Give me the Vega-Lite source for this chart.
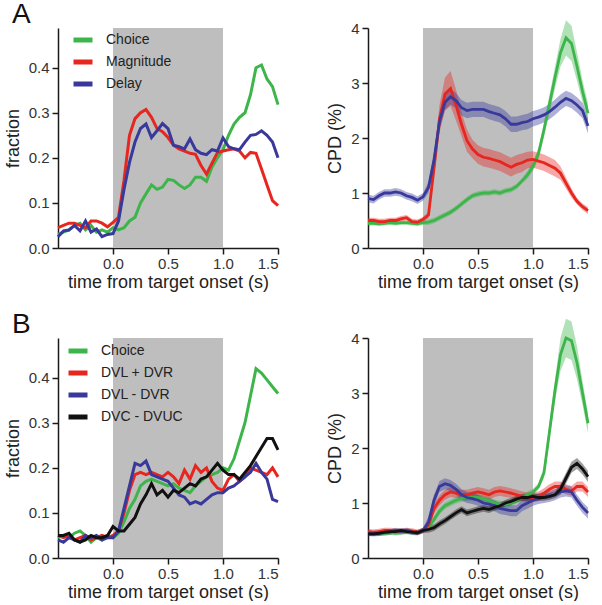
{
"$schema": "https://vega.github.io/schema/vega-lite/v6.json",
"background": "white",
"padding": {"left": 4, "top": 1, "right": 0, "bottom": 0},
"bounds": "flush",
"columns": 2,
"spacing": {"row": 90, "column": 90},
"resolve": {"scale": {"color": "independent", "x": "independent", "y": "independent"}, "legend": {"color": "independent"}},
"config": {
  "font": "Liberation Sans",
  "view": {"stroke": null},
  "axis": {"grid": false, "domainColor": "#1a1a1a", "domainWidth": 1.5, "tickColor": "#1a1a1a", "tickWidth": 1.5, "tickSize": 6, "labelFontSize": 15, "labelColor": "#333", "labelFont": "Liberation Sans", "labelPadding": 3, "titleFont": "Liberation Sans", "titleFontSize": 18, "titleFontWeight": "normal", "titleColor": "#222"},
  "axisX": {"titlePadding": 2, "labelPadding": 2},
  "axisY": {"titlePadding": 6},
  "legend": {"padding": 0, "symbolType": "stroke", "symbolStrokeWidth": 5, "symbolSize": 361, "labelFontSize": 14, "labelColor": "#222", "labelFont": "Liberation Sans", "rowPadding": -2, "labelOffset": 11},
  "title": {"fontSize": 28, "fontWeight": "normal", "font": "Liberation Sans", "anchor": "start", "frame": "group", "color": "#111", "dx": -46, "offset": -1}
},
"datasets": {
"af": [
{"t":-0.5,"s":"Choice","v":0.03},{"t":-0.45,"s":"Choice","v":0.035},{"t":-0.4,"s":"Choice","v":0.04},{"t":-0.35,"s":"Choice","v":0.05},{"t":-0.3,"s":"Choice","v":0.055},{"t":-0.25,"s":"Choice","v":0.04},{"t":-0.2,"s":"Choice","v":0.05},{"t":-0.15,"s":"Choice","v":0.035},{"t":-0.1,"s":"Choice","v":0.04},{"t":-0.05,"s":"Choice","v":0.035},{"t":0,"s":"Choice","v":0.045},{"t":0.05,"s":"Choice","v":0.04},{"t":0.1,"s":"Choice","v":0.045},{"t":0.15,"s":"Choice","v":0.06},{"t":0.2,"s":"Choice","v":0.068},{"t":0.25,"s":"Choice","v":0.1},{"t":0.3,"s":"Choice","v":0.12},{"t":0.35,"s":"Choice","v":0.14},{"t":0.4,"s":"Choice","v":0.13},{"t":0.45,"s":"Choice","v":0.135},{"t":0.5,"s":"Choice","v":0.152},{"t":0.55,"s":"Choice","v":0.15},{"t":0.6,"s":"Choice","v":0.14},{"t":0.65,"s":"Choice","v":0.132},{"t":0.7,"s":"Choice","v":0.14},{"t":0.75,"s":"Choice","v":0.157},{"t":0.8,"s":"Choice","v":0.157},{"t":0.85,"s":"Choice","v":0.148},{"t":0.9,"s":"Choice","v":0.18},{"t":0.95,"s":"Choice","v":0.2},{"t":1,"s":"Choice","v":0.218},{"t":1.05,"s":"Choice","v":0.25},{"t":1.1,"s":"Choice","v":0.275},{"t":1.15,"s":"Choice","v":0.29},{"t":1.2,"s":"Choice","v":0.3},{"t":1.25,"s":"Choice","v":0.34},{"t":1.3,"s":"Choice","v":0.4},{"t":1.35,"s":"Choice","v":0.406},{"t":1.4,"s":"Choice","v":0.375},{"t":1.45,"s":"Choice","v":0.358},{"t":1.5,"s":"Choice","v":0.318},
{"t":-0.5,"s":"Magnitude","v":0.045},{"t":-0.45,"s":"Magnitude","v":0.05},{"t":-0.4,"s":"Magnitude","v":0.055},{"t":-0.35,"s":"Magnitude","v":0.055},{"t":-0.3,"s":"Magnitude","v":0.05},{"t":-0.25,"s":"Magnitude","v":0.045},{"t":-0.2,"s":"Magnitude","v":0.06},{"t":-0.15,"s":"Magnitude","v":0.06},{"t":-0.1,"s":"Magnitude","v":0.055},{"t":-0.05,"s":"Magnitude","v":0.047},{"t":0,"s":"Magnitude","v":0.057},{"t":0.05,"s":"Magnitude","v":0.068},{"t":0.1,"s":"Magnitude","v":0.15},{"t":0.15,"s":"Magnitude","v":0.25},{"t":0.2,"s":"Magnitude","v":0.287},{"t":0.25,"s":"Magnitude","v":0.3},{"t":0.3,"s":"Magnitude","v":0.307},{"t":0.35,"s":"Magnitude","v":0.29},{"t":0.4,"s":"Magnitude","v":0.265},{"t":0.45,"s":"Magnitude","v":0.258},{"t":0.5,"s":"Magnitude","v":0.245},{"t":0.55,"s":"Magnitude","v":0.228},{"t":0.6,"s":"Magnitude","v":0.22},{"t":0.65,"s":"Magnitude","v":0.215},{"t":0.7,"s":"Magnitude","v":0.21},{"t":0.75,"s":"Magnitude","v":0.208},{"t":0.8,"s":"Magnitude","v":0.183},{"t":0.85,"s":"Magnitude","v":0.164},{"t":0.9,"s":"Magnitude","v":0.188},{"t":0.95,"s":"Magnitude","v":0.212},{"t":1,"s":"Magnitude","v":0.215},{"t":1.05,"s":"Magnitude","v":0.218},{"t":1.1,"s":"Magnitude","v":0.22},{"t":1.15,"s":"Magnitude","v":0.215},{"t":1.2,"s":"Magnitude","v":0.2},{"t":1.25,"s":"Magnitude","v":0.212},{"t":1.3,"s":"Magnitude","v":0.21},{"t":1.35,"s":"Magnitude","v":0.175},{"t":1.4,"s":"Magnitude","v":0.14},{"t":1.45,"s":"Magnitude","v":0.105},{"t":1.5,"s":"Magnitude","v":0.094},
{"t":-0.5,"s":"Delay","v":0.025},{"t":-0.45,"s":"Delay","v":0.038},{"t":-0.4,"s":"Delay","v":0.04},{"t":-0.35,"s":"Delay","v":0.05},{"t":-0.3,"s":"Delay","v":0.038},{"t":-0.25,"s":"Delay","v":0.06},{"t":-0.2,"s":"Delay","v":0.035},{"t":-0.15,"s":"Delay","v":0.042},{"t":-0.1,"s":"Delay","v":0.025},{"t":-0.05,"s":"Delay","v":0.03},{"t":0,"s":"Delay","v":0.032},{"t":0.05,"s":"Delay","v":0.06},{"t":0.1,"s":"Delay","v":0.13},{"t":0.15,"s":"Delay","v":0.19},{"t":0.2,"s":"Delay","v":0.235},{"t":0.25,"s":"Delay","v":0.265},{"t":0.3,"s":"Delay","v":0.275},{"t":0.35,"s":"Delay","v":0.245},{"t":0.4,"s":"Delay","v":0.26},{"t":0.45,"s":"Delay","v":0.276},{"t":0.5,"s":"Delay","v":0.265},{"t":0.55,"s":"Delay","v":0.228},{"t":0.6,"s":"Delay","v":0.225},{"t":0.65,"s":"Delay","v":0.22},{"t":0.7,"s":"Delay","v":0.242},{"t":0.75,"s":"Delay","v":0.218},{"t":0.8,"s":"Delay","v":0.21},{"t":0.85,"s":"Delay","v":0.207},{"t":0.9,"s":"Delay","v":0.218},{"t":0.95,"s":"Delay","v":0.215},{"t":1,"s":"Delay","v":0.244},{"t":1.05,"s":"Delay","v":0.225},{"t":1.1,"s":"Delay","v":0.22},{"t":1.15,"s":"Delay","v":0.218},{"t":1.2,"s":"Delay","v":0.235},{"t":1.25,"s":"Delay","v":0.25},{"t":1.3,"s":"Delay","v":0.252},{"t":1.35,"s":"Delay","v":0.26},{"t":1.4,"s":"Delay","v":0.25},{"t":1.45,"s":"Delay","v":0.235},{"t":1.5,"s":"Delay","v":0.2}
],
"ac": [
{"t":-0.5,"s":"Choice","v":0.45,"e":0.04},{"t":-0.45,"s":"Choice","v":0.45,"e":0.04},{"t":-0.4,"s":"Choice","v":0.44,"e":0.04},{"t":-0.35,"s":"Choice","v":0.45,"e":0.04},{"t":-0.3,"s":"Choice","v":0.46,"e":0.04},{"t":-0.25,"s":"Choice","v":0.45,"e":0.04},{"t":-0.2,"s":"Choice","v":0.46,"e":0.04},{"t":-0.15,"s":"Choice","v":0.46,"e":0.04},{"t":-0.1,"s":"Choice","v":0.45,"e":0.04},{"t":-0.05,"s":"Choice","v":0.44,"e":0.04},{"t":0,"s":"Choice","v":0.46,"e":0.04},{"t":0.05,"s":"Choice","v":0.47,"e":0.05},{"t":0.1,"s":"Choice","v":0.5,"e":0.05},{"t":0.15,"s":"Choice","v":0.55,"e":0.05},{"t":0.2,"s":"Choice","v":0.6,"e":0.05},{"t":0.25,"s":"Choice","v":0.65,"e":0.05},{"t":0.3,"s":"Choice","v":0.72,"e":0.05},{"t":0.35,"s":"Choice","v":0.8,"e":0.05},{"t":0.4,"s":"Choice","v":0.88,"e":0.05},{"t":0.45,"s":"Choice","v":0.95,"e":0.05},{"t":0.5,"s":"Choice","v":0.98,"e":0.05},{"t":0.55,"s":"Choice","v":1.0,"e":0.05},{"t":0.6,"s":"Choice","v":1.0,"e":0.05},{"t":0.65,"s":"Choice","v":1.02,"e":0.05},{"t":0.7,"s":"Choice","v":1.0,"e":0.05},{"t":0.75,"s":"Choice","v":1.04,"e":0.05},{"t":0.8,"s":"Choice","v":1.06,"e":0.05},{"t":0.85,"s":"Choice","v":1.12,"e":0.05},{"t":0.9,"s":"Choice","v":1.22,"e":0.05},{"t":0.95,"s":"Choice","v":1.33,"e":0.07},{"t":1,"s":"Choice","v":1.48,"e":0.08},{"t":1.05,"s":"Choice","v":1.72,"e":0.1},{"t":1.1,"s":"Choice","v":2.15,"e":0.13},{"t":1.15,"s":"Choice","v":2.62,"e":0.16},{"t":1.2,"s":"Choice","v":3.1,"e":0.2},{"t":1.25,"s":"Choice","v":3.55,"e":0.25},{"t":1.3,"s":"Choice","v":3.82,"e":0.32},{"t":1.35,"s":"Choice","v":3.72,"e":0.32},{"t":1.4,"s":"Choice","v":3.3,"e":0.26},{"t":1.45,"s":"Choice","v":2.85,"e":0.2},{"t":1.5,"s":"Choice","v":2.45,"e":0.18},
{"t":-0.5,"s":"Magnitude","v":0.5,"e":0.05},{"t":-0.45,"s":"Magnitude","v":0.5,"e":0.05},{"t":-0.4,"s":"Magnitude","v":0.48,"e":0.05},{"t":-0.35,"s":"Magnitude","v":0.48,"e":0.05},{"t":-0.3,"s":"Magnitude","v":0.5,"e":0.05},{"t":-0.25,"s":"Magnitude","v":0.5,"e":0.05},{"t":-0.2,"s":"Magnitude","v":0.53,"e":0.05},{"t":-0.15,"s":"Magnitude","v":0.55,"e":0.05},{"t":-0.1,"s":"Magnitude","v":0.48,"e":0.05},{"t":-0.05,"s":"Magnitude","v":0.47,"e":0.05},{"t":0,"s":"Magnitude","v":0.52,"e":0.05},{"t":0.05,"s":"Magnitude","v":0.6,"e":0.06},{"t":0.1,"s":"Magnitude","v":1.45,"e":0.15},{"t":0.15,"s":"Magnitude","v":2.35,"e":0.25},{"t":0.2,"s":"Magnitude","v":2.8,"e":0.3},{"t":0.25,"s":"Magnitude","v":2.9,"e":0.32},{"t":0.3,"s":"Magnitude","v":2.6,"e":0.28},{"t":0.35,"s":"Magnitude","v":2.25,"e":0.22},{"t":0.4,"s":"Magnitude","v":1.95,"e":0.2},{"t":0.45,"s":"Magnitude","v":1.8,"e":0.17},{"t":0.5,"s":"Magnitude","v":1.7,"e":0.17},{"t":0.55,"s":"Magnitude","v":1.65,"e":0.17},{"t":0.6,"s":"Magnitude","v":1.63,"e":0.17},{"t":0.65,"s":"Magnitude","v":1.6,"e":0.17},{"t":0.7,"s":"Magnitude","v":1.57,"e":0.17},{"t":0.75,"s":"Magnitude","v":1.52,"e":0.17},{"t":0.8,"s":"Magnitude","v":1.47,"e":0.17},{"t":0.85,"s":"Magnitude","v":1.52,"e":0.17},{"t":0.9,"s":"Magnitude","v":1.55,"e":0.17},{"t":0.95,"s":"Magnitude","v":1.6,"e":0.15},{"t":1,"s":"Magnitude","v":1.61,"e":0.15},{"t":1.05,"s":"Magnitude","v":1.58,"e":0.15},{"t":1.1,"s":"Magnitude","v":1.55,"e":0.15},{"t":1.15,"s":"Magnitude","v":1.5,"e":0.15},{"t":1.2,"s":"Magnitude","v":1.45,"e":0.15},{"t":1.25,"s":"Magnitude","v":1.36,"e":0.12},{"t":1.3,"s":"Magnitude","v":1.18,"e":0.1},{"t":1.35,"s":"Magnitude","v":1.0,"e":0.08},{"t":1.4,"s":"Magnitude","v":0.85,"e":0.06},{"t":1.45,"s":"Magnitude","v":0.75,"e":0.06},{"t":1.5,"s":"Magnitude","v":0.68,"e":0.06},
{"t":-0.5,"s":"Delay","v":0.9,"e":0.07},{"t":-0.45,"s":"Delay","v":0.88,"e":0.07},{"t":-0.4,"s":"Delay","v":0.95,"e":0.07},{"t":-0.35,"s":"Delay","v":1.0,"e":0.07},{"t":-0.3,"s":"Delay","v":1.0,"e":0.07},{"t":-0.25,"s":"Delay","v":1.02,"e":0.07},{"t":-0.2,"s":"Delay","v":1.0,"e":0.07},{"t":-0.15,"s":"Delay","v":0.95,"e":0.07},{"t":-0.1,"s":"Delay","v":0.92,"e":0.07},{"t":-0.05,"s":"Delay","v":0.87,"e":0.07},{"t":0,"s":"Delay","v":0.93,"e":0.07},{"t":0.05,"s":"Delay","v":1.1,"e":0.1},{"t":0.1,"s":"Delay","v":1.6,"e":0.14},{"t":0.15,"s":"Delay","v":2.3,"e":0.14},{"t":0.2,"s":"Delay","v":2.65,"e":0.14},{"t":0.25,"s":"Delay","v":2.75,"e":0.14},{"t":0.3,"s":"Delay","v":2.68,"e":0.14},{"t":0.35,"s":"Delay","v":2.55,"e":0.14},{"t":0.4,"s":"Delay","v":2.5,"e":0.14},{"t":0.45,"s":"Delay","v":2.52,"e":0.14},{"t":0.5,"s":"Delay","v":2.52,"e":0.14},{"t":0.55,"s":"Delay","v":2.52,"e":0.14},{"t":0.6,"s":"Delay","v":2.48,"e":0.14},{"t":0.65,"s":"Delay","v":2.45,"e":0.14},{"t":0.7,"s":"Delay","v":2.42,"e":0.14},{"t":0.75,"s":"Delay","v":2.35,"e":0.14},{"t":0.8,"s":"Delay","v":2.25,"e":0.14},{"t":0.85,"s":"Delay","v":2.25,"e":0.14},{"t":0.9,"s":"Delay","v":2.28,"e":0.14},{"t":0.95,"s":"Delay","v":2.3,"e":0.14},{"t":1,"s":"Delay","v":2.35,"e":0.14},{"t":1.05,"s":"Delay","v":2.38,"e":0.14},{"t":1.1,"s":"Delay","v":2.42,"e":0.14},{"t":1.15,"s":"Delay","v":2.48,"e":0.14},{"t":1.2,"s":"Delay","v":2.56,"e":0.14},{"t":1.25,"s":"Delay","v":2.65,"e":0.14},{"t":1.3,"s":"Delay","v":2.72,"e":0.14},{"t":1.35,"s":"Delay","v":2.68,"e":0.14},{"t":1.4,"s":"Delay","v":2.6,"e":0.14},{"t":1.45,"s":"Delay","v":2.5,"e":0.14},{"t":1.5,"s":"Delay","v":2.22,"e":0.14}
],
"bf": [
{"t":-0.5,"s":"Choice","v":0.045},{"t":-0.45,"s":"Choice","v":0.05},{"t":-0.4,"s":"Choice","v":0.045},{"t":-0.35,"s":"Choice","v":0.055},{"t":-0.3,"s":"Choice","v":0.06},{"t":-0.25,"s":"Choice","v":0.05},{"t":-0.2,"s":"Choice","v":0.035},{"t":-0.15,"s":"Choice","v":0.045},{"t":-0.1,"s":"Choice","v":0.04},{"t":-0.05,"s":"Choice","v":0.05},{"t":0,"s":"Choice","v":0.045},{"t":0.05,"s":"Choice","v":0.055},{"t":0.1,"s":"Choice","v":0.08},{"t":0.15,"s":"Choice","v":0.11},{"t":0.2,"s":"Choice","v":0.13},{"t":0.25,"s":"Choice","v":0.16},{"t":0.3,"s":"Choice","v":0.17},{"t":0.35,"s":"Choice","v":0.175},{"t":0.4,"s":"Choice","v":0.17},{"t":0.45,"s":"Choice","v":0.165},{"t":0.5,"s":"Choice","v":0.16},{"t":0.55,"s":"Choice","v":0.165},{"t":0.6,"s":"Choice","v":0.155},{"t":0.65,"s":"Choice","v":0.15},{"t":0.7,"s":"Choice","v":0.145},{"t":0.75,"s":"Choice","v":0.16},{"t":0.8,"s":"Choice","v":0.17},{"t":0.85,"s":"Choice","v":0.18},{"t":0.9,"s":"Choice","v":0.185},{"t":0.95,"s":"Choice","v":0.19},{"t":1,"s":"Choice","v":0.2},{"t":1.05,"s":"Choice","v":0.195},{"t":1.1,"s":"Choice","v":0.22},{"t":1.15,"s":"Choice","v":0.26},{"t":1.2,"s":"Choice","v":0.3},{"t":1.25,"s":"Choice","v":0.36},{"t":1.3,"s":"Choice","v":0.42},{"t":1.35,"s":"Choice","v":0.41},{"t":1.4,"s":"Choice","v":0.395},{"t":1.45,"s":"Choice","v":0.38},{"t":1.5,"s":"Choice","v":0.365},
{"t":-0.5,"s":"DVL + DVR","v":0.05},{"t":-0.45,"s":"DVL + DVR","v":0.045},{"t":-0.4,"s":"DVL + DVR","v":0.05},{"t":-0.35,"s":"DVL + DVR","v":0.04},{"t":-0.3,"s":"DVL + DVR","v":0.045},{"t":-0.25,"s":"DVL + DVR","v":0.05},{"t":-0.2,"s":"DVL + DVR","v":0.04},{"t":-0.15,"s":"DVL + DVR","v":0.045},{"t":-0.1,"s":"DVL + DVR","v":0.05},{"t":-0.05,"s":"DVL + DVR","v":0.045},{"t":0,"s":"DVL + DVR","v":0.05},{"t":0.05,"s":"DVL + DVR","v":0.06},{"t":0.1,"s":"DVL + DVR","v":0.1},{"t":0.15,"s":"DVL + DVR","v":0.15},{"t":0.2,"s":"DVL + DVR","v":0.185},{"t":0.25,"s":"DVL + DVR","v":0.19},{"t":0.3,"s":"DVL + DVR","v":0.185},{"t":0.35,"s":"DVL + DVR","v":0.19},{"t":0.4,"s":"DVL + DVR","v":0.185},{"t":0.45,"s":"DVL + DVR","v":0.18},{"t":0.5,"s":"DVL + DVR","v":0.19},{"t":0.55,"s":"DVL + DVR","v":0.18},{"t":0.6,"s":"DVL + DVR","v":0.165},{"t":0.65,"s":"DVL + DVR","v":0.195},{"t":0.7,"s":"DVL + DVR","v":0.175},{"t":0.75,"s":"DVL + DVR","v":0.205},{"t":0.8,"s":"DVL + DVR","v":0.19},{"t":0.85,"s":"DVL + DVR","v":0.2},{"t":0.9,"s":"DVL + DVR","v":0.17},{"t":0.95,"s":"DVL + DVR","v":0.155},{"t":1,"s":"DVL + DVR","v":0.15},{"t":1.05,"s":"DVL + DVR","v":0.175},{"t":1.1,"s":"DVL + DVR","v":0.185},{"t":1.15,"s":"DVL + DVR","v":0.17},{"t":1.2,"s":"DVL + DVR","v":0.18},{"t":1.25,"s":"DVL + DVR","v":0.2},{"t":1.3,"s":"DVL + DVR","v":0.195},{"t":1.35,"s":"DVL + DVR","v":0.19},{"t":1.4,"s":"DVL + DVR","v":0.185},{"t":1.45,"s":"DVL + DVR","v":0.2},{"t":1.5,"s":"DVL + DVR","v":0.18},
{"t":-0.5,"s":"DVL - DVR","v":0.04},{"t":-0.45,"s":"DVL - DVR","v":0.035},{"t":-0.4,"s":"DVL - DVR","v":0.045},{"t":-0.35,"s":"DVL - DVR","v":0.04},{"t":-0.3,"s":"DVL - DVR","v":0.035},{"t":-0.25,"s":"DVL - DVR","v":0.05},{"t":-0.2,"s":"DVL - DVR","v":0.045},{"t":-0.15,"s":"DVL - DVR","v":0.05},{"t":-0.1,"s":"DVL - DVR","v":0.04},{"t":-0.05,"s":"DVL - DVR","v":0.045},{"t":0,"s":"DVL - DVR","v":0.045},{"t":0.05,"s":"DVL - DVR","v":0.06},{"t":0.1,"s":"DVL - DVR","v":0.11},{"t":0.15,"s":"DVL - DVR","v":0.16},{"t":0.2,"s":"DVL - DVR","v":0.21},{"t":0.25,"s":"DVL - DVR","v":0.205},{"t":0.3,"s":"DVL - DVR","v":0.215},{"t":0.35,"s":"DVL - DVR","v":0.185},{"t":0.4,"s":"DVL - DVR","v":0.18},{"t":0.45,"s":"DVL - DVR","v":0.175},{"t":0.5,"s":"DVL - DVR","v":0.17},{"t":0.55,"s":"DVL - DVR","v":0.155},{"t":0.6,"s":"DVL - DVR","v":0.14},{"t":0.65,"s":"DVL - DVR","v":0.135},{"t":0.7,"s":"DVL - DVR","v":0.12},{"t":0.75,"s":"DVL - DVR","v":0.125},{"t":0.8,"s":"DVL - DVR","v":0.12},{"t":0.85,"s":"DVL - DVR","v":0.13},{"t":0.9,"s":"DVL - DVR","v":0.14},{"t":0.95,"s":"DVL - DVR","v":0.145},{"t":1,"s":"DVL - DVR","v":0.145},{"t":1.05,"s":"DVL - DVR","v":0.155},{"t":1.1,"s":"DVL - DVR","v":0.16},{"t":1.15,"s":"DVL - DVR","v":0.17},{"t":1.2,"s":"DVL - DVR","v":0.18},{"t":1.25,"s":"DVL - DVR","v":0.19},{"t":1.3,"s":"DVL - DVR","v":0.21},{"t":1.35,"s":"DVL - DVR","v":0.19},{"t":1.4,"s":"DVL - DVR","v":0.175},{"t":1.45,"s":"DVL - DVR","v":0.13},{"t":1.5,"s":"DVL - DVR","v":0.125},
{"t":-0.5,"s":"DVC - DVUC","v":0.05},{"t":-0.45,"s":"DVC - DVUC","v":0.05},{"t":-0.4,"s":"DVC - DVUC","v":0.055},{"t":-0.35,"s":"DVC - DVUC","v":0.04},{"t":-0.3,"s":"DVC - DVUC","v":0.035},{"t":-0.25,"s":"DVC - DVUC","v":0.04},{"t":-0.2,"s":"DVC - DVUC","v":0.05},{"t":-0.15,"s":"DVC - DVUC","v":0.045},{"t":-0.1,"s":"DVC - DVUC","v":0.045},{"t":-0.05,"s":"DVC - DVUC","v":0.05},{"t":0,"s":"DVC - DVUC","v":0.07},{"t":0.05,"s":"DVC - DVUC","v":0.06},{"t":0.1,"s":"DVC - DVUC","v":0.06},{"t":0.15,"s":"DVC - DVUC","v":0.075},{"t":0.2,"s":"DVC - DVUC","v":0.09},{"t":0.25,"s":"DVC - DVUC","v":0.12},{"t":0.3,"s":"DVC - DVUC","v":0.14},{"t":0.35,"s":"DVC - DVUC","v":0.165},{"t":0.4,"s":"DVC - DVUC","v":0.14},{"t":0.45,"s":"DVC - DVUC","v":0.15},{"t":0.5,"s":"DVC - DVUC","v":0.135},{"t":0.55,"s":"DVC - DVUC","v":0.15},{"t":0.6,"s":"DVC - DVUC","v":0.145},{"t":0.65,"s":"DVC - DVUC","v":0.155},{"t":0.7,"s":"DVC - DVUC","v":0.165},{"t":0.75,"s":"DVC - DVUC","v":0.16},{"t":0.8,"s":"DVC - DVUC","v":0.175},{"t":0.85,"s":"DVC - DVUC","v":0.18},{"t":0.9,"s":"DVC - DVUC","v":0.195},{"t":0.95,"s":"DVC - DVUC","v":0.21},{"t":1,"s":"DVC - DVUC","v":0.195},{"t":1.05,"s":"DVC - DVUC","v":0.185},{"t":1.1,"s":"DVC - DVUC","v":0.185},{"t":1.15,"s":"DVC - DVUC","v":0.175},{"t":1.2,"s":"DVC - DVUC","v":0.19},{"t":1.25,"s":"DVC - DVUC","v":0.205},{"t":1.3,"s":"DVC - DVUC","v":0.225},{"t":1.35,"s":"DVC - DVUC","v":0.245},{"t":1.4,"s":"DVC - DVUC","v":0.265},{"t":1.45,"s":"DVC - DVUC","v":0.265},{"t":1.5,"s":"DVC - DVUC","v":0.24}
],
"bc": [
{"t":-0.5,"s":"Choice","v":0.45,"e":0.04},{"t":-0.45,"s":"Choice","v":0.45,"e":0.04},{"t":-0.4,"s":"Choice","v":0.44,"e":0.04},{"t":-0.35,"s":"Choice","v":0.45,"e":0.04},{"t":-0.3,"s":"Choice","v":0.46,"e":0.04},{"t":-0.25,"s":"Choice","v":0.45,"e":0.04},{"t":-0.2,"s":"Choice","v":0.46,"e":0.04},{"t":-0.15,"s":"Choice","v":0.47,"e":0.04},{"t":-0.1,"s":"Choice","v":0.46,"e":0.04},{"t":-0.05,"s":"Choice","v":0.47,"e":0.04},{"t":0,"s":"Choice","v":0.5,"e":0.04},{"t":0.05,"s":"Choice","v":0.55,"e":0.06},{"t":0.1,"s":"Choice","v":0.7,"e":0.06},{"t":0.15,"s":"Choice","v":0.85,"e":0.06},{"t":0.2,"s":"Choice","v":0.95,"e":0.06},{"t":0.25,"s":"Choice","v":1.0,"e":0.06},{"t":0.3,"s":"Choice","v":1.05,"e":0.06},{"t":0.35,"s":"Choice","v":1.08,"e":0.06},{"t":0.4,"s":"Choice","v":1.1,"e":0.06},{"t":0.45,"s":"Choice","v":1.1,"e":0.06},{"t":0.5,"s":"Choice","v":1.1,"e":0.06},{"t":0.55,"s":"Choice","v":1.08,"e":0.06},{"t":0.6,"s":"Choice","v":1.05,"e":0.06},{"t":0.65,"s":"Choice","v":1.0,"e":0.06},{"t":0.7,"s":"Choice","v":0.98,"e":0.06},{"t":0.75,"s":"Choice","v":0.97,"e":0.06},{"t":0.8,"s":"Choice","v":1.0,"e":0.06},{"t":0.85,"s":"Choice","v":1.05,"e":0.06},{"t":0.9,"s":"Choice","v":1.1,"e":0.06},{"t":0.95,"s":"Choice","v":1.15,"e":0.06},{"t":1,"s":"Choice","v":1.2,"e":0.06},{"t":1.05,"s":"Choice","v":1.3,"e":0.06},{"t":1.1,"s":"Choice","v":1.55,"e":0.1},{"t":1.15,"s":"Choice","v":2.3,"e":0.15},{"t":1.2,"s":"Choice","v":3.05,"e":0.2},{"t":1.25,"s":"Choice","v":3.7,"e":0.3},{"t":1.3,"s":"Choice","v":4.0,"e":0.35},{"t":1.35,"s":"Choice","v":3.95,"e":0.35},{"t":1.4,"s":"Choice","v":3.55,"e":0.3},{"t":1.45,"s":"Choice","v":3.0,"e":0.22},{"t":1.5,"s":"Choice","v":2.45,"e":0.18},
{"t":-0.5,"s":"DVL + DVR","v":0.48,"e":0.05},{"t":-0.45,"s":"DVL + DVR","v":0.47,"e":0.05},{"t":-0.4,"s":"DVL + DVR","v":0.48,"e":0.05},{"t":-0.35,"s":"DVL + DVR","v":0.5,"e":0.05},{"t":-0.3,"s":"DVL + DVR","v":0.5,"e":0.05},{"t":-0.25,"s":"DVL + DVR","v":0.49,"e":0.05},{"t":-0.2,"s":"DVL + DVR","v":0.48,"e":0.05},{"t":-0.15,"s":"DVL + DVR","v":0.5,"e":0.05},{"t":-0.1,"s":"DVL + DVR","v":0.49,"e":0.05},{"t":-0.05,"s":"DVL + DVR","v":0.47,"e":0.05},{"t":0,"s":"DVL + DVR","v":0.5,"e":0.05},{"t":0.05,"s":"DVL + DVR","v":0.6,"e":0.09},{"t":0.1,"s":"DVL + DVR","v":0.9,"e":0.09},{"t":0.15,"s":"DVL + DVR","v":1.05,"e":0.09},{"t":0.2,"s":"DVL + DVR","v":1.15,"e":0.09},{"t":0.25,"s":"DVL + DVR","v":1.2,"e":0.09},{"t":0.3,"s":"DVL + DVR","v":1.18,"e":0.09},{"t":0.35,"s":"DVL + DVR","v":1.15,"e":0.09},{"t":0.4,"s":"DVL + DVR","v":1.15,"e":0.09},{"t":0.45,"s":"DVL + DVR","v":1.18,"e":0.09},{"t":0.5,"s":"DVL + DVR","v":1.2,"e":0.09},{"t":0.55,"s":"DVL + DVR","v":1.18,"e":0.09},{"t":0.6,"s":"DVL + DVR","v":1.15,"e":0.09},{"t":0.65,"s":"DVL + DVR","v":1.2,"e":0.09},{"t":0.7,"s":"DVL + DVR","v":1.22,"e":0.09},{"t":0.75,"s":"DVL + DVR","v":1.2,"e":0.09},{"t":0.8,"s":"DVL + DVR","v":1.18,"e":0.09},{"t":0.85,"s":"DVL + DVR","v":1.15,"e":0.09},{"t":0.9,"s":"DVL + DVR","v":1.12,"e":0.09},{"t":0.95,"s":"DVL + DVR","v":1.1,"e":0.09},{"t":1,"s":"DVL + DVR","v":1.1,"e":0.09},{"t":1.05,"s":"DVL + DVR","v":1.12,"e":0.09},{"t":1.1,"s":"DVL + DVR","v":1.18,"e":0.09},{"t":1.15,"s":"DVL + DVR","v":1.25,"e":0.09},{"t":1.2,"s":"DVL + DVR","v":1.3,"e":0.09},{"t":1.25,"s":"DVL + DVR","v":1.3,"e":0.09},{"t":1.3,"s":"DVL + DVR","v":1.25,"e":0.09},{"t":1.35,"s":"DVL + DVR","v":1.22,"e":0.09},{"t":1.4,"s":"DVL + DVR","v":1.3,"e":0.09},{"t":1.45,"s":"DVL + DVR","v":1.3,"e":0.09},{"t":1.5,"s":"DVL + DVR","v":1.2,"e":0.09},
{"t":-0.5,"s":"DVL - DVR","v":0.45,"e":0.05},{"t":-0.45,"s":"DVL - DVR","v":0.44,"e":0.05},{"t":-0.4,"s":"DVL - DVR","v":0.45,"e":0.05},{"t":-0.35,"s":"DVL - DVR","v":0.46,"e":0.05},{"t":-0.3,"s":"DVL - DVR","v":0.47,"e":0.05},{"t":-0.25,"s":"DVL - DVR","v":0.5,"e":0.05},{"t":-0.2,"s":"DVL - DVR","v":0.48,"e":0.05},{"t":-0.15,"s":"DVL - DVR","v":0.5,"e":0.05},{"t":-0.1,"s":"DVL - DVR","v":0.47,"e":0.05},{"t":-0.05,"s":"DVL - DVR","v":0.46,"e":0.05},{"t":0,"s":"DVL - DVR","v":0.5,"e":0.05},{"t":0.05,"s":"DVL - DVR","v":0.65,"e":0.1},{"t":0.1,"s":"DVL - DVR","v":1.05,"e":0.1},{"t":0.15,"s":"DVL - DVR","v":1.3,"e":0.1},{"t":0.2,"s":"DVL - DVR","v":1.35,"e":0.1},{"t":0.25,"s":"DVL - DVR","v":1.32,"e":0.1},{"t":0.3,"s":"DVL - DVR","v":1.25,"e":0.1},{"t":0.35,"s":"DVL - DVR","v":1.15,"e":0.1},{"t":0.4,"s":"DVL - DVR","v":1.1,"e":0.1},{"t":0.45,"s":"DVL - DVR","v":1.08,"e":0.1},{"t":0.5,"s":"DVL - DVR","v":1.05,"e":0.1},{"t":0.55,"s":"DVL - DVR","v":1.0,"e":0.1},{"t":0.6,"s":"DVL - DVR","v":0.98,"e":0.1},{"t":0.65,"s":"DVL - DVR","v":0.95,"e":0.1},{"t":0.7,"s":"DVL - DVR","v":0.9,"e":0.1},{"t":0.75,"s":"DVL - DVR","v":0.88,"e":0.1},{"t":0.8,"s":"DVL - DVR","v":0.86,"e":0.1},{"t":0.85,"s":"DVL - DVR","v":0.86,"e":0.1},{"t":0.9,"s":"DVL - DVR","v":0.95,"e":0.1},{"t":0.95,"s":"DVL - DVR","v":1.0,"e":0.1},{"t":1,"s":"DVL - DVR","v":1.05,"e":0.1},{"t":1.05,"s":"DVL - DVR","v":1.08,"e":0.1},{"t":1.1,"s":"DVL - DVR","v":1.1,"e":0.1},{"t":1.15,"s":"DVL - DVR","v":1.12,"e":0.1},{"t":1.2,"s":"DVL - DVR","v":1.15,"e":0.1},{"t":1.25,"s":"DVL - DVR","v":1.2,"e":0.1},{"t":1.3,"s":"DVL - DVR","v":1.22,"e":0.1},{"t":1.35,"s":"DVL - DVR","v":1.2,"e":0.1},{"t":1.4,"s":"DVL - DVR","v":1.05,"e":0.1},{"t":1.45,"s":"DVL - DVR","v":0.92,"e":0.1},{"t":1.5,"s":"DVL - DVR","v":0.82,"e":0.1},
{"t":-0.5,"s":"DVC - DVUC","v":0.44,"e":0.04},{"t":-0.45,"s":"DVC - DVUC","v":0.44,"e":0.04},{"t":-0.4,"s":"DVC - DVUC","v":0.45,"e":0.04},{"t":-0.35,"s":"DVC - DVUC","v":0.47,"e":0.04},{"t":-0.3,"s":"DVC - DVUC","v":0.48,"e":0.04},{"t":-0.25,"s":"DVC - DVUC","v":0.48,"e":0.04},{"t":-0.2,"s":"DVC - DVUC","v":0.5,"e":0.04},{"t":-0.15,"s":"DVC - DVUC","v":0.48,"e":0.04},{"t":-0.1,"s":"DVC - DVUC","v":0.47,"e":0.04},{"t":-0.05,"s":"DVC - DVUC","v":0.46,"e":0.04},{"t":0,"s":"DVC - DVUC","v":0.5,"e":0.04},{"t":0.05,"s":"DVC - DVUC","v":0.52,"e":0.06},{"t":0.1,"s":"DVC - DVUC","v":0.55,"e":0.06},{"t":0.15,"s":"DVC - DVUC","v":0.62,"e":0.06},{"t":0.2,"s":"DVC - DVUC","v":0.68,"e":0.06},{"t":0.25,"s":"DVC - DVUC","v":0.75,"e":0.06},{"t":0.3,"s":"DVC - DVUC","v":0.82,"e":0.06},{"t":0.35,"s":"DVC - DVUC","v":0.88,"e":0.06},{"t":0.4,"s":"DVC - DVUC","v":0.82,"e":0.06},{"t":0.45,"s":"DVC - DVUC","v":0.85,"e":0.06},{"t":0.5,"s":"DVC - DVUC","v":0.88,"e":0.06},{"t":0.55,"s":"DVC - DVUC","v":0.9,"e":0.06},{"t":0.6,"s":"DVC - DVUC","v":0.88,"e":0.06},{"t":0.65,"s":"DVC - DVUC","v":0.92,"e":0.06},{"t":0.7,"s":"DVC - DVUC","v":0.95,"e":0.06},{"t":0.75,"s":"DVC - DVUC","v":1.0,"e":0.06},{"t":0.8,"s":"DVC - DVUC","v":1.03,"e":0.06},{"t":0.85,"s":"DVC - DVUC","v":1.07,"e":0.06},{"t":0.9,"s":"DVC - DVUC","v":1.1,"e":0.06},{"t":0.95,"s":"DVC - DVUC","v":1.1,"e":0.06},{"t":1,"s":"DVC - DVUC","v":1.12,"e":0.06},{"t":1.05,"s":"DVC - DVUC","v":1.1,"e":0.06},{"t":1.1,"s":"DVC - DVUC","v":1.1,"e":0.06},{"t":1.15,"s":"DVC - DVUC","v":1.12,"e":0.06},{"t":1.2,"s":"DVC - DVUC","v":1.15,"e":0.06},{"t":1.25,"s":"DVC - DVUC","v":1.25,"e":0.1},{"t":1.3,"s":"DVC - DVUC","v":1.45,"e":0.1},{"t":1.35,"s":"DVC - DVUC","v":1.65,"e":0.1},{"t":1.4,"s":"DVC - DVUC","v":1.72,"e":0.1},{"t":1.45,"s":"DVC - DVUC","v":1.62,"e":0.1},{"t":1.5,"s":"DVC - DVUC","v":1.48,"e":0.1}
]
},
"concat": [
{
 "width": 220, "height": 220,
 "title": {"text": "A"},
 "layer": [
  {"data": {"values": [{"t": 0, "t2": 1}]}, "mark": {"type": "rect", "color": "#bebebe"},
   "encoding": {"x": {"field": "t", "type": "quantitative", "scale": {"domain": [-0.5, 1.5], "nice": false, "zero": false}, "axis": {"values": [0, 0.5, 1, 1.5], "format": ".1f", "title": "time from target onset (s)"}}, "x2": {"field": "t2"}}},
  {"data": {"name": "af"}, "mark": {"type": "line", "strokeWidth": 3},
   "encoding": {
    "x": {"field": "t", "type": "quantitative", "scale": {"domain": [-0.5, 1.5], "nice": false, "zero": false}, "axis": {"values": [0, 0.5, 1, 1.5], "format": ".1f", "title": "time from target onset (s)"}},
    "y": {"field": "v", "type": "quantitative", "scale": {"domain": [0, 0.488], "nice": false}, "axis": {"values": [0, 0.1, 0.2, 0.3, 0.4], "format": ".1f", "title": "fraction"}},
    "color": {"field": "s", "type": "nominal", "scale": {"domain": ["Choice", "Magnitude", "Delay"], "range": ["#3db54a", "#e6261f", "#38399a"]}, "legend": {"title": null, "orient": "none", "legendX": 13, "legendY": 0}}
   }}
 ]
},
{
 "width": 220, "height": 220,
 "layer": [
  {"data": {"values": [{"t": 0, "t2": 1}]}, "mark": {"type": "rect", "color": "#bebebe"},
   "encoding": {"x": {"field": "t", "type": "quantitative", "scale": {"domain": [-0.5, 1.5], "nice": false, "zero": false}, "axis": {"values": [0, 0.5, 1, 1.5], "format": ".1f", "title": "time from target onset (s)"}}, "x2": {"field": "t2"}}},
  {"data": {"name": "ac"},
   "encoding": {
    "x": {"field": "t", "type": "quantitative", "scale": {"domain": [-0.5, 1.5], "nice": false, "zero": false}, "axis": {"values": [0, 0.5, 1, 1.5], "format": ".1f", "title": "time from target onset (s)"}},
    "y": {"field": "v", "type": "quantitative", "scale": {"domain": [0, 4], "nice": false}, "axis": {"values": [0, 1, 2, 3, 4], "format": "d", "title": "CPD (%)"}},
    "color": {"field": "s", "type": "nominal", "scale": {"domain": ["Choice", "Magnitude", "Delay"], "range": ["#3db54a", "#e6261f", "#38399a"]}, "legend": null}
   },
   "layer": [
    {"mark": {"type": "errorband", "opacity": 0.4}, "encoding": {"yError": {"field": "e"}}},
    {"mark": {"type": "line", "strokeWidth": 2.8}}
   ]}
 ]
},
{
 "width": 220, "height": 220,
 "title": {"text": "B"},
 "layer": [
  {"data": {"values": [{"t": 0, "t2": 1}]}, "mark": {"type": "rect", "color": "#bebebe"},
   "encoding": {"x": {"field": "t", "type": "quantitative", "scale": {"domain": [-0.5, 1.5], "nice": false, "zero": false}, "axis": {"values": [0, 0.5, 1, 1.5], "format": ".1f", "title": "time from target onset (s)"}}, "x2": {"field": "t2"}}},
  {"data": {"name": "bf"}, "mark": {"type": "line", "strokeWidth": 3},
   "encoding": {
    "x": {"field": "t", "type": "quantitative", "scale": {"domain": [-0.5, 1.5], "nice": false, "zero": false}, "axis": {"values": [0, 0.5, 1, 1.5], "format": ".1f", "title": "time from target onset (s)"}},
    "y": {"field": "v", "type": "quantitative", "scale": {"domain": [0, 0.488], "nice": false}, "axis": {"values": [0, 0.1, 0.2, 0.3, 0.4], "format": ".1f", "title": "fraction"}},
    "color": {"field": "s", "type": "nominal", "scale": {"domain": ["Choice", "DVL + DVR", "DVL - DVR", "DVC - DVUC"], "range": ["#3db54a", "#e6261f", "#38399a", "#111111"]}, "legend": {"title": null, "orient": "none", "legendX": 8, "legendY": 1}}
   }}
 ]
},
{
 "width": 220, "height": 220,
 "layer": [
  {"data": {"values": [{"t": 0, "t2": 1}]}, "mark": {"type": "rect", "color": "#bebebe"},
   "encoding": {"x": {"field": "t", "type": "quantitative", "scale": {"domain": [-0.5, 1.5], "nice": false, "zero": false}, "axis": {"values": [0, 0.5, 1, 1.5], "format": ".1f", "title": "time from target onset (s)"}}, "x2": {"field": "t2"}}},
  {"data": {"name": "bc"},
   "encoding": {
    "x": {"field": "t", "type": "quantitative", "scale": {"domain": [-0.5, 1.5], "nice": false, "zero": false}, "axis": {"values": [0, 0.5, 1, 1.5], "format": ".1f", "title": "time from target onset (s)"}},
    "y": {"field": "v", "type": "quantitative", "scale": {"domain": [0, 4], "nice": false}, "axis": {"values": [0, 1, 2, 3, 4], "format": "d", "title": "CPD (%)"}},
    "color": {"field": "s", "type": "nominal", "scale": {"domain": ["Choice", "DVL + DVR", "DVL - DVR", "DVC - DVUC"], "range": ["#3db54a", "#e6261f", "#38399a", "#111111"]}, "legend": null}
   },
   "layer": [
    {"mark": {"type": "errorband", "opacity": 0.4}, "encoding": {"yError": {"field": "e"}}},
    {"mark": {"type": "line", "strokeWidth": 2.8}}
   ]}
 ]
}
]
}
